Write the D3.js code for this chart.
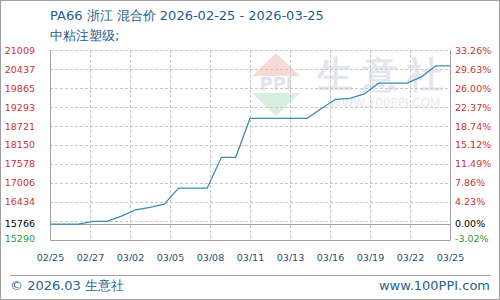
<!DOCTYPE html>
<html>
<head>
<meta charset="utf-8">
<script src="https://cdn.jsdelivr.net/npm/d3@7"></script>
<style>
  body { margin: 0; background: #fff; }
  svg { display: block; }
  text { font-family: "DejaVu Sans", Verdana, sans-serif; }
</style>
</head>
<body>
<div id="chart"></div>
<script>
var dates = ["02/25","02/26","02/27","02/28","03/01","03/02","03/03","03/04","03/05","03/06",
             "03/07","03/08","03/09","03/10","03/11","03/12","03/13","03/14","03/15","03/16",
             "03/17","03/18","03/19","03/20","03/21","03/22","03/23","03/24","03/25"];
var prices = [15766,15766,15766,15850,15850,16010,16200,16275,16366,16850,
              16850,16850,17780,17780,18950,18950,18950,18950,18950,19250,
              19525,19550,19685,20010,20010,20010,20200,20533,20533];
var xLabels = ["02/25","02/27","03/02","03/05","03/08","03/11","03/13","03/16","03/19","03/22","03/25"];
var yTicks = [21009,20437,19865,19293,18721,18150,17578,17006,16434];
var pctTicks = ["33.26%","29.63%","26.00%","22.37%","18.74%","15.12%","11.49%","7.86%","4.23%"];
var yGrid = [21009,20437,19865,19293,18721,18150,17578,17006,16434,15862];
var yMin = 15290, yMax = 21009, base = 15766;

var W = 500, H = 300,
    pL = 50, pR = 450, pT = 50, pB = 240;

var svg = d3.select("#chart").append("svg")
    .attr("width", W)
    .attr("height", H);

svg.append("rect")
    .attr("x", 0.5).attr("y", 0.5)
    .attr("width", W - 1).attr("height", H - 1)
    .attr("fill", "#fff").attr("stroke", "#a0a0a0");

var x = d3.scaleLinear().domain([0, dates.length - 1]).range([pL, pR]);
var xl = d3.scalePoint().domain(xLabels).range([pL, pR]);
var y = d3.scaleLinear().domain([yMin, yMax]).range([pB, pT]);

// watermark
var wm = svg.append("g").attr("class", "watermark");
wm.append("path")
    .attr("d", "M252,76 L276,53 L300,76 Z")
    .attr("fill", "#f7d9d6");
wm.append("text")
    .attr("x", 276).attr("y", 90)
    .attr("text-anchor", "middle")
    .attr("font-size", 18).attr("font-weight", "bold")
    .attr("fill", "#dfe3ef")
    .text("PPI");
wm.append("path")
    .attr("d", "M252,93 L300,93 L276,116 Z")
    .attr("fill", "#d8efdd");
wm.append("text")
    .attr("x", 384).attr("y", 87)
    .attr("text-anchor", "middle")
    .attr("font-family", "Noto Sans CJK SC")
    .attr("font-size", 36)
    .attr("font-weight", "bold")
    .attr("letter-spacing", 9)
    .attr("fill", "#e3e6ee")
    .text("生意社");
wm.append("text")
    .attr("x", 385).attr("y", 107)
    .attr("text-anchor", "middle")
    .attr("font-size", 12)
    .attr("fill", "#e6e8ee")
    .text("WWW.100PPI.COM");

// grid
svg.append("g").selectAll("line")
    .data(yGrid)
  .enter().append("line")
    .attr("x1", pL).attr("x2", pR)
    .attr("y1", function(d) { return Math.round(y(d)) + 0.5; })
    .attr("y2", function(d) { return Math.round(y(d)) + 0.5; })
    .attr("stroke", "#c8c8c8")
    .attr("stroke-dasharray", "3,2");

svg.append("g").selectAll("line")
    .data(xLabels.slice(1, -1))
  .enter().append("line")
    .attr("x1", function(d) { return Math.round(xl(d)) + 0.5; })
    .attr("x2", function(d) { return Math.round(xl(d)) + 0.5; })
    .attr("y1", pT).attr("y2", pB)
    .attr("stroke", "#c8c8c8")
    .attr("stroke-dasharray", "3,2");

// base line and frame
svg.append("line")
    .attr("x1", pL).attr("x2", pR)
    .attr("y1", Math.round(y(base)) + 0.5).attr("y2", Math.round(y(base)) + 0.5)
    .attr("stroke", "#a0a0a0");

svg.append("path")
    .attr("d", "M" + (pL + 0.5) + "," + pT + "V" + (pB + 0.5) + "H" + (pR + 0.5) + "V" + pT)
    .attr("fill", "none")
    .attr("stroke", "#a0a0a0");

// price line
var line = d3.line()
    .x(function(d, i) { return x(i); })
    .y(function(d) { return y(d); });

svg.append("path")
    .datum(prices)
    .attr("d", line)
    .attr("fill", "none")
    .attr("stroke", "#3f8ab4")
    .attr("stroke-width", 1.3);

// left axis labels
var yl = svg.append("g").attr("font-size", 9.5);
yl.selectAll("text")
    .data(yTicks)
  .enter().append("text")
    .attr("x", 35)
    .attr("y", function(d) { return y(d) + 3.5; })
    .attr("text-anchor", "end")
    .attr("fill", "#cc3333")
    .text(function(d) { return d; });
yl.append("text")
    .attr("x", 35).attr("y", y(base) + 3)
    .attr("text-anchor", "end").attr("fill", "#000")
    .text(base);
yl.append("text")
    .attr("x", 35).attr("y", y(yMin) + 2)
    .attr("text-anchor", "end").attr("fill", "#2f9a2f")
    .text(yMin);

// right axis labels
var yr = svg.append("g").attr("font-size", 9.5);
yr.selectAll("text")
    .data(pctTicks)
  .enter().append("text")
    .attr("x", 455)
    .attr("y", function(d, i) { return y(yTicks[i]) + 3.5; })
    .attr("fill", "#cc3333")
    .text(function(d) { return d; });
yr.append("text")
    .attr("x", 455).attr("y", y(base) + 3)
    .attr("fill", "#000")
    .text("0.00%");
yr.append("text")
    .attr("x", 455).attr("y", y(yMin) + 2)
    .attr("fill", "#2f9a2f")
    .text("-3.02%");

// x axis
var xAxis = d3.axisBottom(xl).tickSize(0).tickPadding(0);
var gx = svg.append("g")
    .attr("transform", "translate(0," + pB + ")")
    .call(xAxis);
gx.select(".domain").remove();
gx.selectAll("text")
    .attr("y", 21)
    .attr("dy", null)
    .attr("font-size", 9.5)
    .attr("font-family", "DejaVu Sans, Verdana, sans-serif")
    .attr("fill", "#1d4f78");

// titles
svg.append("text")
    .attr("x", 50).attr("y", 20)
    .attr("font-size", 13)
    .attr("fill", "#1f5d8c")
    .text("PA66 浙江 混合价 2026-02-25 - 2026-03-25");
svg.append("text")
    .attr("x", 50).attr("y", 40)
    .attr("font-size", 13)
    .attr("fill", "#1f5d8c")
    .text("中粘注塑级;");

// footer
svg.append("line")
    .attr("x1", 10).attr("x2", 491)
    .attr("y1", 275.5).attr("y2", 275.5)
    .attr("stroke", "#a0a0a0");
svg.append("text")
    .attr("x", 10).attr("y", 290)
    .attr("font-size", 13)
    .attr("fill", "#2a5f8a")
    .text("© 2026.03 生意社");
svg.append("text")
    .attr("x", 490).attr("y", 290)
    .attr("text-anchor", "end")
    .attr("font-size", 13)
    .attr("fill", "#2a5f8a")
    .text("www.100PPI.com");
</script>
</body>
</html>
